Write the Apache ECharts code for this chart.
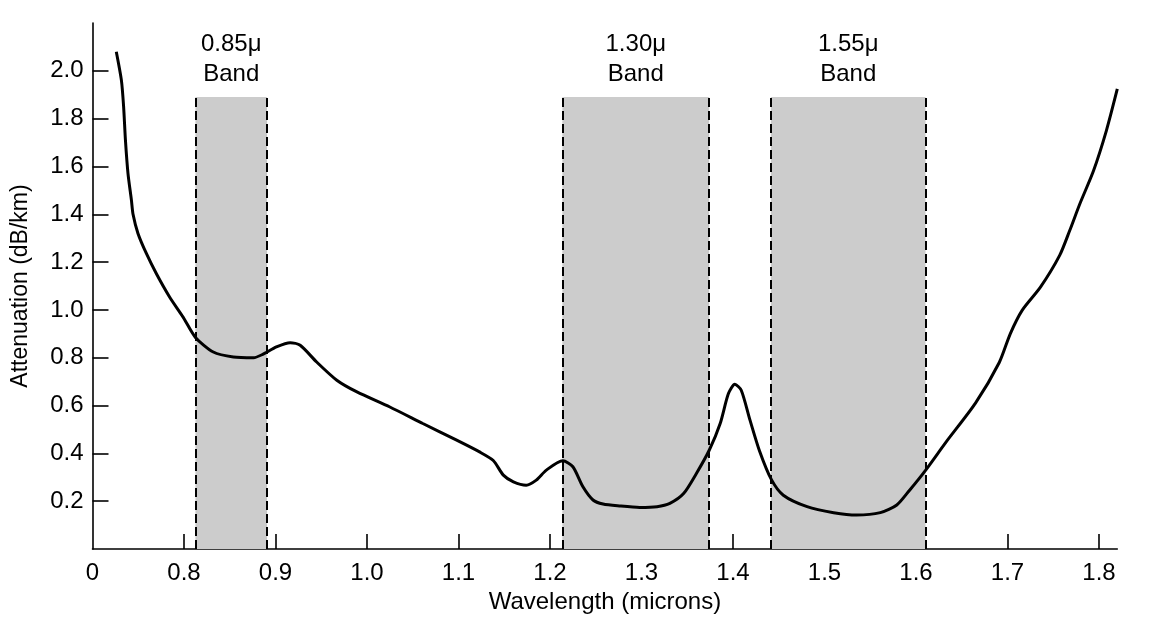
<!DOCTYPE html>
<html>
<head>
<meta charset="utf-8">
<title>Fiber attenuation</title>
<script src="https://cdn.jsdelivr.net/npm/echarts@6.0.0/dist/echarts.min.js"></script>
<style>
  html, body { margin: 0; padding: 0; background: #fff; }
  #chart { width: 1168px; height: 617px; }
</style>
</head>
<body>
<div id="chart"></div>
<script>
// wavelength (microns) vs attenuation (dB/km)
var wavelength = [
  0.726, 0.7316, 0.734, 0.736, 0.7388, 0.7425, 0.7443, 0.7497, 0.759, 0.770,
  0.7844, 0.799, 0.8125, 0.832, 0.854, 0.876, 0.886, 0.901, 0.916, 0.927,
  0.945, 0.967, 0.989, 1.025, 1.061, 1.098, 1.123, 1.138, 1.149, 1.160,
  1.174, 1.185, 1.196, 1.214, 1.225, 1.236, 1.247, 1.258, 1.276, 1.298,
  1.317, 1.331, 1.346, 1.360, 1.374, 1.386, 1.395, 1.402, 1.409, 1.4185,
  1.429, 1.442, 1.455, 1.481, 1.510, 1.535, 1.561, 1.579, 1.593, 1.610,
  1.633, 1.665, 1.691, 1.703, 1.716, 1.736, 1.757, 1.768, 1.779, 1.794,
  1.808, 1.820
];
var attenuation = [
  2.08, 1.96, 1.85, 1.71, 1.57, 1.46, 1.40, 1.32, 1.235, 1.15,
  1.053, 0.97, 0.885, 0.824, 0.803, 0.800, 0.814, 0.845, 0.863, 0.852,
  0.782, 0.706, 0.657, 0.594, 0.525, 0.455, 0.406, 0.370, 0.309, 0.281,
  0.267, 0.288, 0.330, 0.369, 0.344, 0.260, 0.205, 0.188, 0.180, 0.174,
  0.177, 0.191, 0.232, 0.316, 0.413, 0.525, 0.650, 0.689, 0.664, 0.540,
  0.410, 0.290, 0.225, 0.177, 0.152, 0.142, 0.152, 0.184, 0.246, 0.327,
  0.448, 0.610, 0.780, 0.900, 0.998, 1.095, 1.228, 1.332, 1.443, 1.582,
  1.749, 1.924
];

// shaded transmission bands
var bandNames = ['0.85\u03bc\nBand', '1.30\u03bc\nBand', '1.55\u03bc\nBand'];
var bandStart = [0.8125, 1.2135, 1.4414];
var bandEnd = [0.8908, 1.374, 1.6104];
var bandTop = 1.89;

// tick labels
var xTicks = [0.8, 0.9, 1.0, 1.1, 1.2, 1.3, 1.4, 1.5, 1.6, 1.7, 1.8];
var xLabels = [0.7, 0.8, 0.9, 1.0, 1.1, 1.2, 1.3, 1.4, 1.5, 1.6, 1.7, 1.8];
var yTicks = [0.2, 0.4, 0.6, 0.8, 1.0, 1.2, 1.4, 1.6, 1.8, 2.0];

var font = '"Liberation Sans", Arial, Helvetica, sans-serif';

var curve = wavelength.map(function (w, i) { return [w, attenuation[i]]; });

var areas = [];
var edges = [];
bandNames.forEach(function (name, i) {
  areas.push([
    { name: name, coord: [bandStart[i], 0] },
    { coord: [bandEnd[i], bandTop] }
  ]);
  [bandStart[i], bandEnd[i]].forEach(function (x) {
    edges.push([{ coord: [x, 0] }, { coord: [x, bandTop] }]);
  });
});

var chart = echarts.init(document.getElementById('chart'), null, { renderer: 'canvas' });

chart.setOption({
  backgroundColor: '#fff',
  animation: false,
  textStyle: { fontFamily: font, color: '#000' },
  grid: { left: 92.5, right: 50.7, top: 23, bottom: 68, outerBoundsMode: 'none' },
  xAxis: {
    type: 'value',
    min: 0.7,
    max: 1.82,
    name: 'Wavelength (microns)',
    nameLocation: 'middle',
    nameGap: 38,
    nameTextStyle: { fontFamily: font, fontSize: 24, color: '#000' },
    axisLine: { lineStyle: { color: '#000', width: 1.6 } },
    axisTick: {
      inside: true, length: 15, customValues: xTicks,
      lineStyle: { color: '#000', width: 1.6 }
    },
    axisLabel: {
      customValues: xLabels,
      margin: 12,
      fontFamily: font, fontSize: 24, color: '#000',
      formatter: function (v) { return v < 0.75 ? '0' : v.toFixed(1); }
    },
    splitLine: { show: false }
  },
  yAxis: {
    type: 'value',
    min: 0,
    max: 2.2,
    name: 'Attenuation (dB/km)',
    nameLocation: 'middle',
    nameGap: 60,
    nameTextStyle: { fontFamily: font, fontSize: 23, color: '#000' },
    axisLine: { show: true, lineStyle: { color: '#000', width: 1.6 } },
    axisTick: {
      show: true, inside: true, length: 16, customValues: yTicks,
      lineStyle: { color: '#000', width: 1.6 }
    },
    axisLabel: {
      customValues: yTicks,
      margin: 9,
      fontFamily: font, fontSize: 24, color: '#000',
      formatter: function (v) { return v.toFixed(1); }
    },
    splitLine: { show: false }
  },
  series: [
    {
      type: 'line',
      z: 1,
      data: [],
      silent: true,
      markArea: {
        silent: true,
        itemStyle: { color: '#cccccc', borderWidth: 0 },
        label: {
          show: true,
          position: 'top',
          distance: 8,
          fontFamily: font,
          fontSize: 24,
          lineHeight: 30,
          color: '#000',
          align: 'center'
        },
        data: areas
      },
      markLine: {
        silent: true,
        symbol: ['none', 'none'],
        label: { show: false },
        lineStyle: { color: '#000', width: 2, type: [9, 4] },
        data: edges
      }
    },
    {
      type: 'line',
      z: 3,
      data: curve,
      smooth: 0.25,
      showSymbol: false,
      silent: true,
      lineStyle: { color: '#000', width: 3 }
    }
  ]
});
</script>
</body>
</html>
